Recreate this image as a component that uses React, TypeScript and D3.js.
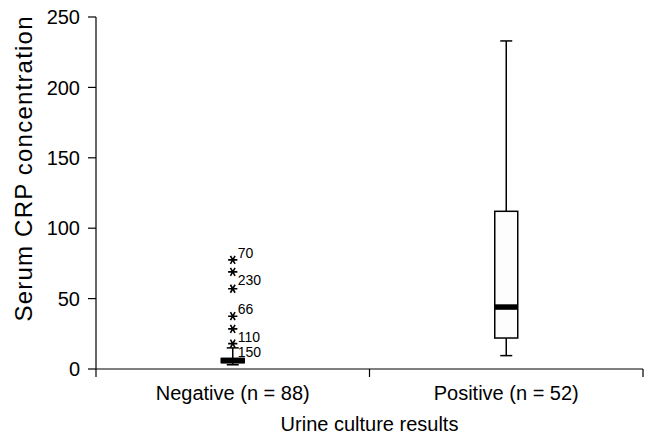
import React, { useEffect, useRef } from 'react';
import * as d3 from 'd3';

const W = 649;
const H = 436;

// box plot summary per urine culture group
const categories = ['Negative (n = 88)', 'Positive (n = 52)'];
const whiskerLow = [3, 9.5];
const quartile1 = [4.5, 22];
const medians = [6, 44];
const quartile3 = [7.5, 112];
const whiskerHigh = [15, 233];

// extreme values in the negative group (case numbers)
const outlierValues = [77.5, 69, 57, 37.5, 28.5, 18];
const outlierIds = ['70', '230', '', '66', '110', '150'];
const outlierLabelPos = ['sup', 'sub', 'none', 'sup', 'sub', 'low'];

const yTicks = [0, 50, 100, 150, 200, 250];

const FONT = 'Liberation Sans, Arial, sans-serif';

const App = () => {
    const svgRef = useRef<SVGSVGElement>(null);

    useEffect(() => {
        if (!svgRef.current) return;
        const svg = d3.select(svgRef.current);
        svg.selectAll('*').remove();

        const left = 96, right = 643, top = 17, bottom = 369;

        const x = d3.scaleBand<string>().domain(categories).range([left, right]).padding(0);
        const y = d3.scaleLinear().domain([0, 250]).range([bottom, top]);

        const g = svg.append('g')
            .attr('font-family', FONT)
            .attr('fill', '#000');

        // y axis
        g.append('line')
            .attr('x1', left).attr('x2', left)
            .attr('y1', y(250)).attr('y2', y(0))
            .attr('stroke', '#000').attr('stroke-width', 1.2);

        const yt = g.append('g').selectAll('g').data(yTicks).join('g');
        yt.append('line')
            .attr('x1', left - 8).attr('x2', left)
            .attr('y1', d => y(d)).attr('y2', d => y(d))
            .attr('stroke', '#000').attr('stroke-width', 1.2);
        yt.append('text')
            .attr('x', left - 16)
            .attr('y', d => y(d))
            .attr('dy', '0.36em')
            .attr('text-anchor', 'end')
            .attr('font-size', 20)
            .text(d => d);

        g.append('text')
            .attr('transform', `translate(32,169) rotate(-90)`)
            .attr('text-anchor', 'middle')
            .attr('font-size', 24)
            .attr('textLength', 305)
            .attr('lengthAdjust', 'spacing')
            .text('Serum CRP concentration');

        // x axis
        g.append('line')
            .attr('x1', left).attr('x2', right)
            .attr('y1', bottom).attr('y2', bottom)
            .attr('stroke', '#000').attr('stroke-width', 1.2);

        const bounds = [left, ...categories.slice(1).map(c => x(c) as number), right];
        g.append('g').selectAll('line').data(bounds).join('line')
            .attr('x1', d => d).attr('x2', d => d)
            .attr('y1', bottom).attr('y2', bottom + 8)
            .attr('stroke', '#000').attr('stroke-width', 1.2);

        g.append('g').selectAll('text').data(categories).join('text')
            .attr('x', d => (x(d) as number) + x.bandwidth() / 2)
            .attr('y', 400)
            .attr('text-anchor', 'middle')
            .attr('font-size', 20)
            .text(d => d);

        g.append('text')
            .attr('x', (left + right) / 2)
            .attr('y', 431)
            .attr('text-anchor', 'middle')
            .attr('font-size', 20)
            .text('Urine culture results');

        // boxes
        const boxW = 23, capW = 12;
        categories.forEach((c, i) => {
            const cx = (x(c) as number) + x.bandwidth() / 2;
            const bg = g.append('g');
            bg.append('line')
                .attr('x1', cx).attr('x2', cx)
                .attr('y1', y(whiskerHigh[i])).attr('y2', y(quartile3[i]))
                .attr('stroke', '#000').attr('stroke-width', 1.5);
            bg.append('line')
                .attr('x1', cx).attr('x2', cx)
                .attr('y1', y(quartile1[i])).attr('y2', y(whiskerLow[i]))
                .attr('stroke', '#000').attr('stroke-width', 1.5);
            [whiskerHigh[i], whiskerLow[i]].forEach(v => {
                bg.append('line')
                    .attr('x1', cx - capW / 2).attr('x2', cx + capW / 2)
                    .attr('y1', y(v)).attr('y2', y(v))
                    .attr('stroke', '#000').attr('stroke-width', 1.5);
            });
            bg.append('rect')
                .attr('x', cx - boxW / 2)
                .attr('y', y(quartile3[i]))
                .attr('width', boxW)
                .attr('height', y(quartile1[i]) - y(quartile3[i]))
                .attr('fill', '#fdfdfd')
                .attr('stroke', '#000').attr('stroke-width', 1.5);
            bg.append('line')
                .attr('x1', cx - boxW / 2).attr('x2', cx + boxW / 2)
                .attr('y1', y(medians[i])).attr('y2', y(medians[i]))
                .attr('stroke', '#000').attr('stroke-width', 5.5);
        });

        // outliers of the negative group, asterisk markers
        const ox = (x(categories[0]) as number) + x.bandwidth() / 2;
        const star = d3.symbol(d3.symbolAsterisk, 60);
        const og = g.append('g').selectAll('g').data(outlierValues).join('g');
        og.append('path')
            .attr('d', star)
            .attr('transform', d => `translate(${ox},${y(d)}) rotate(90)`)
            .attr('fill', 'none')
            .attr('stroke', '#000')
            .attr('stroke-width', 1.6);
        const labelDy: Record<string, number> = { sup: -2, sub: 13, low: 13.5, none: 0 };
        og.append('text')
            .attr('x', ox + 5)
            .attr('y', (d, i) => y(d) + labelDy[outlierLabelPos[i]])
            .attr('font-size', 14)
            .text((d, i) => outlierIds[i]);
    }, []);

    return (
        <svg ref={svgRef} width={W} height={H}
            style={{ position: 'absolute', left: 0, top: 0, background: '#fff' }} />
    );
};

export default App;
